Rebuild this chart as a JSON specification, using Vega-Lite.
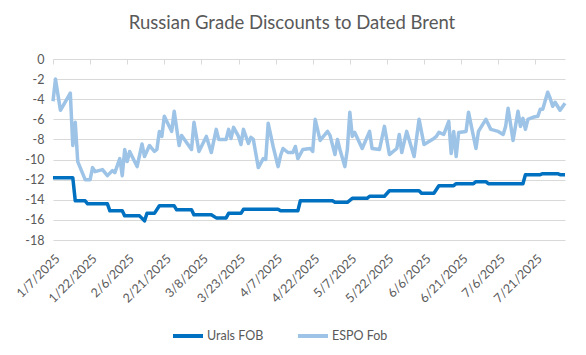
{
  "$schema": "https://vega.github.io/schema/vega-lite/v6.json",
  "autosize": "none",
  "width": 512,
  "height": 181,
  "padding": {"left": 53, "top": 59, "right": 21, "bottom": 115},
  "background": "white",
  "title": {"text": "Russian Grade Discounts to Dated Brent", "frame": "group", "anchor": "middle", "dx": -17, "offset": 21, "fontSize": 18.5, "fontWeight": "normal", "color": "#595959", "font": "Lato"},
  "config": {"view": {"stroke": null}, "font": "Lato", "axis": {"labelColor": "#595959", "labelFontSize": 12.5, "labelFont": "Lato"}},
  "data": {"values": [
    {"d": "2025-01-07", "s": "ESPO Fob", "v": -4.2},
    {"d": "2025-01-08", "s": "ESPO Fob", "v": -2.0},
    {"d": "2025-01-10", "s": "ESPO Fob", "v": -5.1},
    {"d": "2025-01-14", "s": "ESPO Fob", "v": -3.4},
    {"d": "2025-01-15", "s": "ESPO Fob", "v": -8.6},
    {"d": "2025-01-16", "s": "ESPO Fob", "v": -6.3},
    {"d": "2025-01-17", "s": "ESPO Fob", "v": -10.2},
    {"d": "2025-01-20", "s": "ESPO Fob", "v": -12.0},
    {"d": "2025-01-22", "s": "ESPO Fob", "v": -12.0},
    {"d": "2025-01-23", "s": "ESPO Fob", "v": -10.8},
    {"d": "2025-01-24", "s": "ESPO Fob", "v": -11.2},
    {"d": "2025-01-27", "s": "ESPO Fob", "v": -11.0},
    {"d": "2025-01-29", "s": "ESPO Fob", "v": -11.6},
    {"d": "2025-01-31", "s": "ESPO Fob", "v": -11.1},
    {"d": "2025-02-01", "s": "ESPO Fob", "v": -11.3},
    {"d": "2025-02-03", "s": "ESPO Fob", "v": -9.9},
    {"d": "2025-02-04", "s": "ESPO Fob", "v": -11.6},
    {"d": "2025-02-05", "s": "ESPO Fob", "v": -9.0},
    {"d": "2025-02-06", "s": "ESPO Fob", "v": -10.2},
    {"d": "2025-02-07", "s": "ESPO Fob", "v": -9.2},
    {"d": "2025-02-10", "s": "ESPO Fob", "v": -10.7},
    {"d": "2025-02-12", "s": "ESPO Fob", "v": -8.45},
    {"d": "2025-02-13", "s": "ESPO Fob", "v": -9.7},
    {"d": "2025-02-15", "s": "ESPO Fob", "v": -8.6},
    {"d": "2025-02-17", "s": "ESPO Fob", "v": -9.2},
    {"d": "2025-02-18", "s": "ESPO Fob", "v": -9.0},
    {"d": "2025-02-19", "s": "ESPO Fob", "v": -7.2},
    {"d": "2025-02-20", "s": "ESPO Fob", "v": -7.7},
    {"d": "2025-02-21", "s": "ESPO Fob", "v": -5.7},
    {"d": "2025-02-24", "s": "ESPO Fob", "v": -7.2},
    {"d": "2025-02-25", "s": "ESPO Fob", "v": -5.2},
    {"d": "2025-02-27", "s": "ESPO Fob", "v": -8.6},
    {"d": "2025-02-28", "s": "ESPO Fob", "v": -7.6},
    {"d": "2025-03-04", "s": "ESPO Fob", "v": -9.0},
    {"d": "2025-03-05", "s": "ESPO Fob", "v": -6.3},
    {"d": "2025-03-07", "s": "ESPO Fob", "v": -9.2},
    {"d": "2025-03-10", "s": "ESPO Fob", "v": -7.7},
    {"d": "2025-03-12", "s": "ESPO Fob", "v": -9.3},
    {"d": "2025-03-14", "s": "ESPO Fob", "v": -7.0},
    {"d": "2025-03-15", "s": "ESPO Fob", "v": -8.0},
    {"d": "2025-03-18", "s": "ESPO Fob", "v": -8.0},
    {"d": "2025-03-19", "s": "ESPO Fob", "v": -7.0},
    {"d": "2025-03-20", "s": "ESPO Fob", "v": -7.9},
    {"d": "2025-03-21", "s": "ESPO Fob", "v": -6.8},
    {"d": "2025-03-23", "s": "ESPO Fob", "v": -7.7},
    {"d": "2025-03-24", "s": "ESPO Fob", "v": -8.5},
    {"d": "2025-03-25", "s": "ESPO Fob", "v": -7.0},
    {"d": "2025-03-27", "s": "ESPO Fob", "v": -8.4},
    {"d": "2025-03-28", "s": "ESPO Fob", "v": -7.8},
    {"d": "2025-03-29", "s": "ESPO Fob", "v": -8.0},
    {"d": "2025-03-31", "s": "ESPO Fob", "v": -10.8},
    {"d": "2025-04-02", "s": "ESPO Fob", "v": -9.9},
    {"d": "2025-04-03", "s": "ESPO Fob", "v": -10.0},
    {"d": "2025-04-04", "s": "ESPO Fob", "v": -6.4},
    {"d": "2025-04-06", "s": "ESPO Fob", "v": -8.7},
    {"d": "2025-04-08", "s": "ESPO Fob", "v": -10.7},
    {"d": "2025-04-09", "s": "ESPO Fob", "v": -9.6},
    {"d": "2025-04-10", "s": "ESPO Fob", "v": -8.9},
    {"d": "2025-04-12", "s": "ESPO Fob", "v": -9.3},
    {"d": "2025-04-14", "s": "ESPO Fob", "v": -9.3},
    {"d": "2025-04-15", "s": "ESPO Fob", "v": -8.7},
    {"d": "2025-04-16", "s": "ESPO Fob", "v": -9.9},
    {"d": "2025-04-18", "s": "ESPO Fob", "v": -9.0},
    {"d": "2025-04-21", "s": "ESPO Fob", "v": -8.9},
    {"d": "2025-04-22", "s": "ESPO Fob", "v": -9.2},
    {"d": "2025-04-23", "s": "ESPO Fob", "v": -6.0},
    {"d": "2025-04-25", "s": "ESPO Fob", "v": -8.1},
    {"d": "2025-04-28", "s": "ESPO Fob", "v": -7.2},
    {"d": "2025-04-29", "s": "ESPO Fob", "v": -7.6},
    {"d": "2025-05-01", "s": "ESPO Fob", "v": -9.5},
    {"d": "2025-05-02", "s": "ESPO Fob", "v": -8.0},
    {"d": "2025-05-03", "s": "ESPO Fob", "v": -9.0},
    {"d": "2025-05-05", "s": "ESPO Fob", "v": -10.7},
    {"d": "2025-05-06", "s": "ESPO Fob", "v": -9.0},
    {"d": "2025-05-07", "s": "ESPO Fob", "v": -5.3},
    {"d": "2025-05-08", "s": "ESPO Fob", "v": -7.7},
    {"d": "2025-05-09", "s": "ESPO Fob", "v": -7.3},
    {"d": "2025-05-12", "s": "ESPO Fob", "v": -8.9},
    {"d": "2025-05-15", "s": "ESPO Fob", "v": -7.2},
    {"d": "2025-05-16", "s": "ESPO Fob", "v": -8.9},
    {"d": "2025-05-19", "s": "ESPO Fob", "v": -9.0},
    {"d": "2025-05-21", "s": "ESPO Fob", "v": -6.7},
    {"d": "2025-05-23", "s": "ESPO Fob", "v": -9.5},
    {"d": "2025-05-26", "s": "ESPO Fob", "v": -8.9},
    {"d": "2025-05-27", "s": "ESPO Fob", "v": -7.5},
    {"d": "2025-05-28", "s": "ESPO Fob", "v": -9.3},
    {"d": "2025-05-30", "s": "ESPO Fob", "v": -7.2},
    {"d": "2025-06-02", "s": "ESPO Fob", "v": -9.7},
    {"d": "2025-06-04", "s": "ESPO Fob", "v": -6.0},
    {"d": "2025-06-06", "s": "ESPO Fob", "v": -8.5},
    {"d": "2025-06-10", "s": "ESPO Fob", "v": -7.9},
    {"d": "2025-06-11", "s": "ESPO Fob", "v": -7.7},
    {"d": "2025-06-12", "s": "ESPO Fob", "v": -7.3},
    {"d": "2025-06-14", "s": "ESPO Fob", "v": -7.5},
    {"d": "2025-06-16", "s": "ESPO Fob", "v": -6.2},
    {"d": "2025-06-17", "s": "ESPO Fob", "v": -9.4},
    {"d": "2025-06-18", "s": "ESPO Fob", "v": -7.2},
    {"d": "2025-06-19", "s": "ESPO Fob", "v": -9.7},
    {"d": "2025-06-20", "s": "ESPO Fob", "v": -7.3},
    {"d": "2025-06-23", "s": "ESPO Fob", "v": -7.2},
    {"d": "2025-06-24", "s": "ESPO Fob", "v": -5.3},
    {"d": "2025-06-27", "s": "ESPO Fob", "v": -8.9},
    {"d": "2025-06-28", "s": "ESPO Fob", "v": -7.2},
    {"d": "2025-07-01", "s": "ESPO Fob", "v": -6.0},
    {"d": "2025-07-03", "s": "ESPO Fob", "v": -7.0},
    {"d": "2025-07-06", "s": "ESPO Fob", "v": -7.2},
    {"d": "2025-07-08", "s": "ESPO Fob", "v": -7.5},
    {"d": "2025-07-09", "s": "ESPO Fob", "v": -6.7},
    {"d": "2025-07-10", "s": "ESPO Fob", "v": -4.9},
    {"d": "2025-07-12", "s": "ESPO Fob", "v": -8.1},
    {"d": "2025-07-14", "s": "ESPO Fob", "v": -5.2},
    {"d": "2025-07-15", "s": "ESPO Fob", "v": -6.7},
    {"d": "2025-07-16", "s": "ESPO Fob", "v": -5.9},
    {"d": "2025-07-17", "s": "ESPO Fob", "v": -7.0},
    {"d": "2025-07-18", "s": "ESPO Fob", "v": -6.0},
    {"d": "2025-07-20", "s": "ESPO Fob", "v": -5.8},
    {"d": "2025-07-22", "s": "ESPO Fob", "v": -5.7},
    {"d": "2025-07-23", "s": "ESPO Fob", "v": -5.0},
    {"d": "2025-07-24", "s": "ESPO Fob", "v": -5.0},
    {"d": "2025-07-26", "s": "ESPO Fob", "v": -3.3},
    {"d": "2025-07-27", "s": "ESPO Fob", "v": -3.9},
    {"d": "2025-07-28", "s": "ESPO Fob", "v": -4.7},
    {"d": "2025-07-29", "s": "ESPO Fob", "v": -4.3},
    {"d": "2025-07-31", "s": "ESPO Fob", "v": -5.1},
    {"d": "2025-08-02", "s": "ESPO Fob", "v": -4.4},
    {"d": "2025-01-07", "s": "Urals FOB", "v": -11.8},
    {"d": "2025-01-15", "s": "Urals FOB", "v": -11.8},
    {"d": "2025-01-16", "s": "Urals FOB", "v": -14.1},
    {"d": "2025-01-20", "s": "Urals FOB", "v": -14.1},
    {"d": "2025-01-21", "s": "Urals FOB", "v": -14.4},
    {"d": "2025-01-29", "s": "Urals FOB", "v": -14.4},
    {"d": "2025-01-30", "s": "Urals FOB", "v": -15.1},
    {"d": "2025-02-04", "s": "Urals FOB", "v": -15.1},
    {"d": "2025-02-05", "s": "Urals FOB", "v": -15.6},
    {"d": "2025-02-11", "s": "Urals FOB", "v": -15.6},
    {"d": "2025-02-13", "s": "Urals FOB", "v": -16.1},
    {"d": "2025-02-14", "s": "Urals FOB", "v": -15.35},
    {"d": "2025-02-17", "s": "Urals FOB", "v": -15.35},
    {"d": "2025-02-19", "s": "Urals FOB", "v": -14.6},
    {"d": "2025-02-25", "s": "Urals FOB", "v": -14.6},
    {"d": "2025-02-26", "s": "Urals FOB", "v": -15.0},
    {"d": "2025-03-04", "s": "Urals FOB", "v": -15.0},
    {"d": "2025-03-05", "s": "Urals FOB", "v": -15.5},
    {"d": "2025-03-12", "s": "Urals FOB", "v": -15.5},
    {"d": "2025-03-14", "s": "Urals FOB", "v": -15.8},
    {"d": "2025-03-18", "s": "Urals FOB", "v": -15.8},
    {"d": "2025-03-19", "s": "Urals FOB", "v": -15.35},
    {"d": "2025-03-24", "s": "Urals FOB", "v": -15.35},
    {"d": "2025-03-25", "s": "Urals FOB", "v": -14.95},
    {"d": "2025-04-08", "s": "Urals FOB", "v": -14.95},
    {"d": "2025-04-09", "s": "Urals FOB", "v": -15.1},
    {"d": "2025-04-16", "s": "Urals FOB", "v": -15.1},
    {"d": "2025-04-17", "s": "Urals FOB", "v": -14.1},
    {"d": "2025-04-30", "s": "Urals FOB", "v": -14.1},
    {"d": "2025-05-01", "s": "Urals FOB", "v": -14.25},
    {"d": "2025-05-06", "s": "Urals FOB", "v": -14.25},
    {"d": "2025-05-08", "s": "Urals FOB", "v": -13.85},
    {"d": "2025-05-14", "s": "Urals FOB", "v": -13.85},
    {"d": "2025-05-15", "s": "Urals FOB", "v": -13.65},
    {"d": "2025-05-21", "s": "Urals FOB", "v": -13.65},
    {"d": "2025-05-23", "s": "Urals FOB", "v": -13.1},
    {"d": "2025-06-04", "s": "Urals FOB", "v": -13.1},
    {"d": "2025-06-05", "s": "Urals FOB", "v": -13.35},
    {"d": "2025-06-10", "s": "Urals FOB", "v": -13.35},
    {"d": "2025-06-12", "s": "Urals FOB", "v": -12.6},
    {"d": "2025-06-18", "s": "Urals FOB", "v": -12.6},
    {"d": "2025-06-19", "s": "Urals FOB", "v": -12.4},
    {"d": "2025-06-26", "s": "Urals FOB", "v": -12.4},
    {"d": "2025-06-27", "s": "Urals FOB", "v": -12.2},
    {"d": "2025-07-01", "s": "Urals FOB", "v": -12.2},
    {"d": "2025-07-02", "s": "Urals FOB", "v": -12.4},
    {"d": "2025-07-16", "s": "Urals FOB", "v": -12.4},
    {"d": "2025-07-17", "s": "Urals FOB", "v": -11.5},
    {"d": "2025-07-23", "s": "Urals FOB", "v": -11.5},
    {"d": "2025-07-24", "s": "Urals FOB", "v": -11.4},
    {"d": "2025-07-30", "s": "Urals FOB", "v": -11.4},
    {"d": "2025-07-31", "s": "Urals FOB", "v": -11.5},
    {"d": "2025-08-02", "s": "Urals FOB", "v": -11.5}
  ]},
  "resolve": {"axis": {"x": "independent"}},
  "layer": [
    {
      "mark": {"type": "rule", "opacity": 0},
      "encoding": {
        "x": {"field": "d", "type": "temporal",
          "scale": {"type": "utc", "domain": [{"year": 2025, "month": 1, "date": 7, "utc": true}, {"year": 2025, "month": 8, "date": 2, "utc": true}]},
          "axis": {"orient": "top", "title": null, "labels": false, "domain": false, "grid": false, "ticks": true, "tickSize": -5, "tickColor": "#D9D9D9", "tickWidth": 1,
            "values": [
              {"year": 2025, "month": 1, "date": 7, "utc": true},
              {"year": 2025, "month": 1, "date": 22, "utc": true},
              {"year": 2025, "month": 2, "date": 6, "utc": true},
              {"year": 2025, "month": 2, "date": 21, "utc": true},
              {"year": 2025, "month": 3, "date": 8, "utc": true},
              {"year": 2025, "month": 3, "date": 23, "utc": true},
              {"year": 2025, "month": 4, "date": 7, "utc": true},
              {"year": 2025, "month": 4, "date": 22, "utc": true},
              {"year": 2025, "month": 5, "date": 7, "utc": true},
              {"year": 2025, "month": 5, "date": 22, "utc": true},
              {"year": 2025, "month": 6, "date": 6, "utc": true},
              {"year": 2025, "month": 6, "date": 21, "utc": true},
              {"year": 2025, "month": 7, "date": 6, "utc": true},
              {"year": 2025, "month": 7, "date": 21, "utc": true}
            ]}
        }
      }
    },
    {
      "mark": {"type": "line", "strokeWidth": 3.5, "strokeCap": "butt", "strokeJoin": "round"},
      "encoding": {
        "x": {"field": "d", "type": "temporal",
          "axis": {"orient": "bottom", "title": null, "domain": false, "ticks": false, "grid": false, "labelAngle": -45, "labelPadding": 12, "format": "%-m/%-d/%Y", "labelOverlap": false,
            "values": [
              {"year": 2025, "month": 1, "date": 7, "utc": true},
              {"year": 2025, "month": 1, "date": 22, "utc": true},
              {"year": 2025, "month": 2, "date": 6, "utc": true},
              {"year": 2025, "month": 2, "date": 21, "utc": true},
              {"year": 2025, "month": 3, "date": 8, "utc": true},
              {"year": 2025, "month": 3, "date": 23, "utc": true},
              {"year": 2025, "month": 4, "date": 7, "utc": true},
              {"year": 2025, "month": 4, "date": 22, "utc": true},
              {"year": 2025, "month": 5, "date": 7, "utc": true},
              {"year": 2025, "month": 5, "date": 22, "utc": true},
              {"year": 2025, "month": 6, "date": 6, "utc": true},
              {"year": 2025, "month": 6, "date": 21, "utc": true},
              {"year": 2025, "month": 7, "date": 6, "utc": true},
              {"year": 2025, "month": 7, "date": 21, "utc": true}
            ]}
        },
        "y": {"field": "v", "type": "quantitative",
          "scale": {"domain": [-18, 0], "nice": false},
          "axis": {"title": null, "domain": false, "ticks": false, "grid": true, "gridColor": "#D9D9D9", "gridWidth": 1, "labelPadding": 9,
            "values": [0, -2, -4, -6, -8, -10, -12, -14, -16, -18],
            "labelExpr": "datum.value == 0 ? '0' : '-' + format(-datum.value, 'd')"}
        },
        "color": {"field": "s", "type": "nominal",
          "scale": {"domain": ["Urals FOB", "ESPO Fob"], "range": ["#0070C0", "#9DC3E6"]},
          "legend": {"title": null, "orient": "none", "direction": "horizontal", "legendX": 118, "legendY": 260, "symbolType": "stroke", "symbolSize": 900, "symbolStrokeWidth": 4, "labelFontSize": 12.5, "labelColor": "#595959", "labelFont": "Lato", "columnPadding": 26, "labelOffset": 2}
        }
      }
    }
  ]
}
